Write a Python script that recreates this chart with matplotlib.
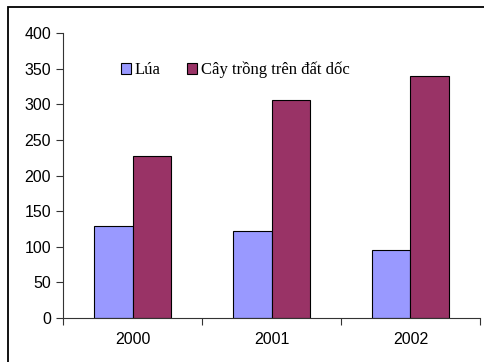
import matplotlib
matplotlib.use("Agg")
import matplotlib.pyplot as plt
from matplotlib.patches import Rectangle

years = ["2000", "2001", "2002"]
lua = [129, 122, 96]
cay_doc = [227, 306, 340]
ten_lua = "Lúa"
ten_doc = "Cây trồng trên đất dốc"

plt.rcParams['font.family'] = ['Liberation Sans', 'DejaVu Sans']

fig = plt.figure(figsize=(4.85, 3.62), dpi=100)
# khung ngoai cua bieu do
fig.patches.append(Rectangle((8.5/485, -0.1), 1.2, 1 - 6.5/362 + 0.1,
                             transform=fig.transFigure, fill=False,
                             edgecolor='black', linewidth=1.3))

ax = fig.add_axes([63/485, 44/362, 417/485, 285/362])
x = range(len(years))
w = 0.28
ax.bar([i - w/2 for i in x], lua, width=w, color='#9999FF', edgecolor='black',
       linewidth=0.8, label=ten_lua)
ax.bar([i + w/2 for i in x], cay_doc, width=w, color='#993366', edgecolor='black',
       linewidth=0.8, label=ten_doc)

ax.set_xlim(-0.5, 2.5)
ax.set_ylim(0, 400)
ax.set_yticks(range(0, 401, 50))
ax.set_xticks([-0.5, 0.5, 1.5, 2.5])
ax.set_xticklabels([])
ax.set_xticks(list(x), minor=True)
ax.set_xticklabels(years, minor=True)
ax.tick_params(axis='x', which='major', length=5, direction='out', color='#333333')
ax.tick_params(axis='x', which='minor', length=0, pad=10, labelsize=11.5)
ax.tick_params(axis='y', length=5, direction='out', labelsize=11.5, color='#333333')
for s in ['top', 'right']:
    ax.spines[s].set_visible(False)
for s in ['left', 'bottom']:
    ax.spines[s].set_color('#333333')

leg = ax.legend(loc='center left', bbox_to_anchor=(0.12, 0.87), ncol=2, frameon=False,
                prop={'family': 'Liberation Serif', 'size': 12},
                handlelength=0.6, handleheight=0.6, handletextpad=0.2,
                columnspacing=1.6, borderpad=0)

fig.savefig("out.png", dpi=100)
